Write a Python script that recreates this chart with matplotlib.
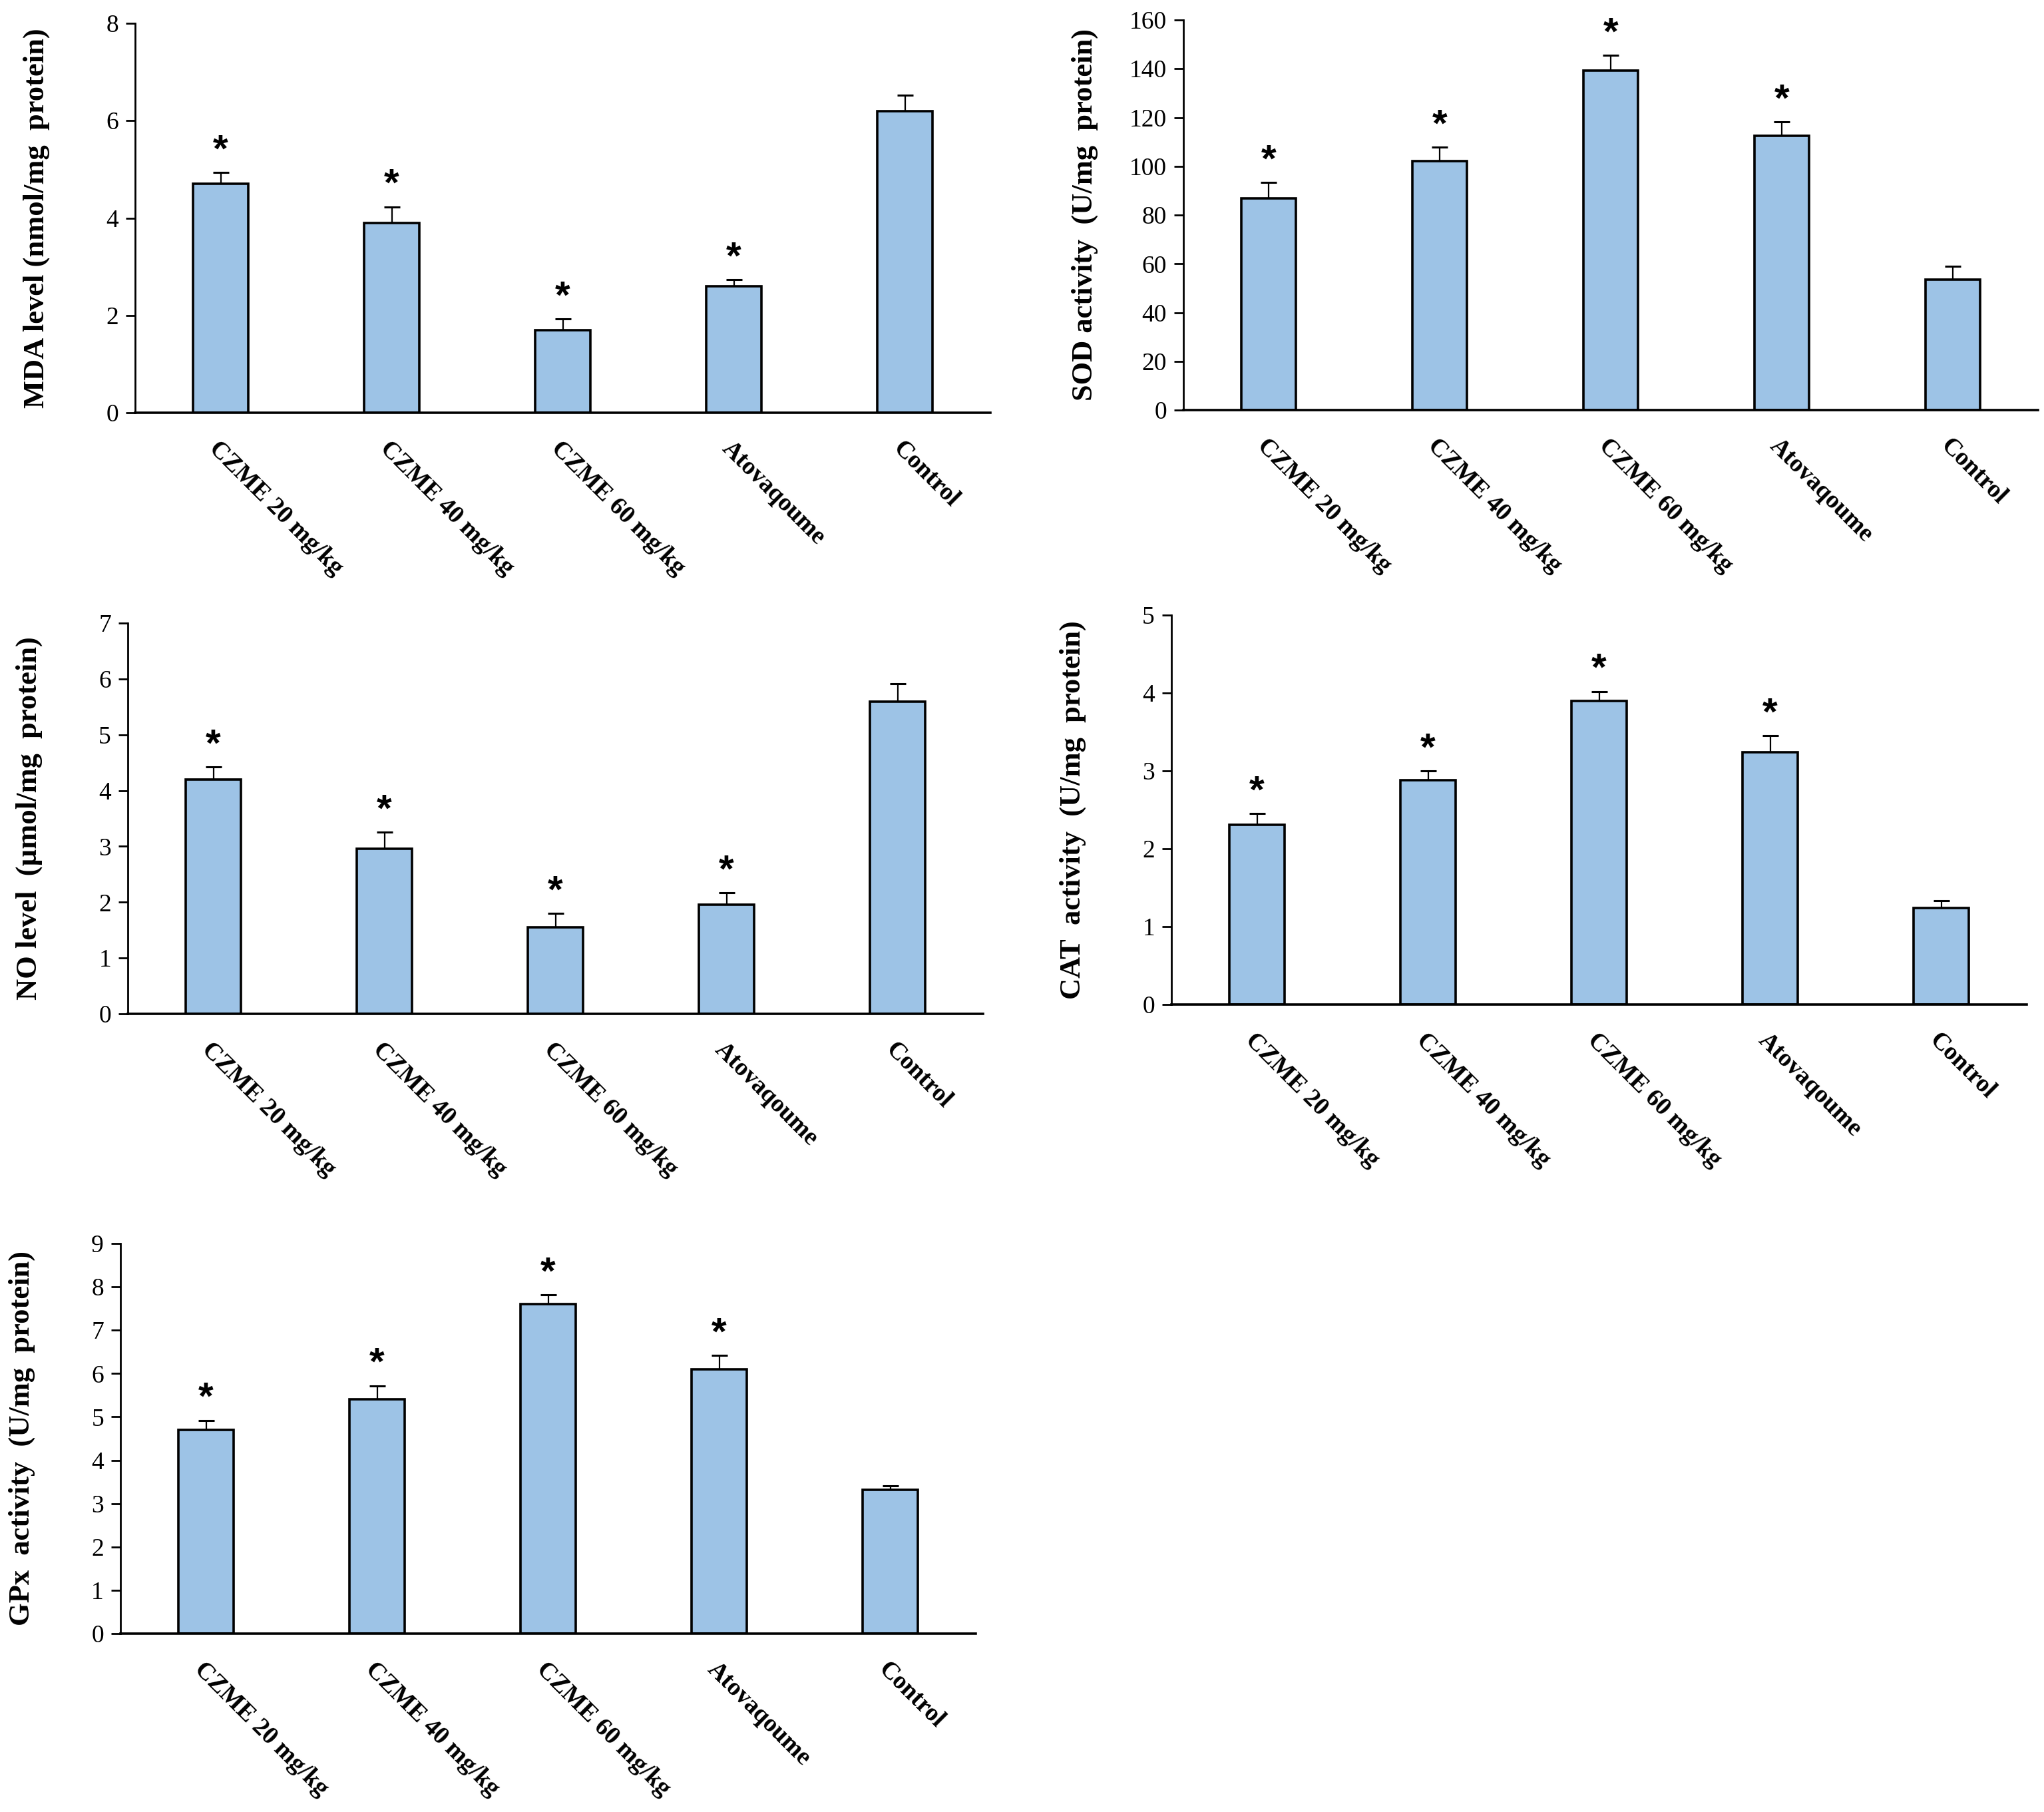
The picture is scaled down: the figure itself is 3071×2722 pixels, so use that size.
import matplotlib
matplotlib.use("Agg")
import matplotlib.pyplot as plt
import numpy as np

categories = ["CZME 20 mg/kg", "CZME 40 mg/kg", "CZME 60 mg/kg", "Atovaqoume", "Control"]

mda = [4.70, 3.90, 1.70, 2.60, 6.20]
mda_err = [0.23, 0.33, 0.23, 0.13, 0.32]

sod = [86.8, 102.0, 139.2, 112.5, 53.4]
sod_err = [6.5, 5.8, 6.3, 5.6, 5.5]

no = [4.20, 2.96, 1.55, 1.96, 5.59]
no_err = [0.22, 0.29, 0.25, 0.21, 0.32]

cat = [2.31, 2.88, 3.90, 3.24, 1.24]
cat_err = [0.14, 0.12, 0.12, 0.21, 0.09]

gpx = [4.70, 5.40, 7.61, 6.10, 3.31]
gpx_err = [0.22, 0.32, 0.21, 0.32, 0.10]

significant = [True, True, True, True, False]

panels = [
    dict(vals=mda, err=mda_err, ylim=(0, 8), ticks=[0, 2, 4, 6, 8],
         label="MDA level (nmol/mg  protein)", box=(203, 35, 1488, 620)),
    dict(vals=sod, err=sod_err, ylim=(0, 160), ticks=list(range(0, 161, 20)),
         label="SOD activity  (U/mg  protein)", box=(1778, 30, 3062, 616)),
    dict(vals=no, err=no_err, ylim=(0, 7), ticks=list(range(0, 8)),
         label="NO level  (\u00b5mol/mg  protein)", box=(192, 936, 1477, 1523)),
    dict(vals=cat, err=cat_err, ylim=(0, 5), ticks=list(range(0, 6)),
         label="CAT  activity  (U/mg  protein)", box=(1760, 924, 3045, 1509)),
    dict(vals=gpx, err=gpx_err, ylim=(0, 9), ticks=list(range(0, 10)),
         label="GPx  activity  (U/mg  protein)", box=(181, 1868, 1466, 2454)),
]

W, H = 3071, 2722
fig = plt.figure(figsize=(W / 100, H / 100), dpi=100)
fig.patch.set_facecolor("white")

serif = ["Liberation Serif", "DejaVu Serif"]
bar_color = "#9DC3E6"

for p in panels:
    x0, y0, x1, y1 = p["box"]
    ax = fig.add_axes([x0 / W, 1 - y1 / H, (x1 - x0) / W, (y1 - y0) / H])
    x = np.arange(len(categories))
    ax.bar(x, p["vals"], width=0.32, color=bar_color, edgecolor="black",
           linewidth=2.6, zorder=2)
    ax.errorbar(x, p["vals"], yerr=[np.zeros(len(x)), p["err"]], fmt="none",
                ecolor="black", elinewidth=1.6, capsize=8.5, capthick=2.2, zorder=1)
    for xi, v, e, s in zip(x, p["vals"], p["err"], significant):
        if s:
            ax.annotate("*", xy=(xi, v + e), xytext=(0, 12), textcoords="offset points",
                        ha="center", va="baseline", fontsize=42, fontweight="bold",
                        family=["Liberation Sans", "DejaVu Sans"])
    ax.set_xlim(-0.5, len(categories) - 0.5)
    ax.set_ylim(*p["ylim"])
    ax.set_yticks(p["ticks"])
    ax.set_yticklabels([str(t) for t in p["ticks"]], family=serif, fontsize=27)
    ax.set_xticks(x)
    ax.set_xticklabels(categories, rotation=-45, ha="left", va="top",
                       rotation_mode="anchor", family=serif, fontsize=27,
                       fontweight="bold")
    ax.tick_params(axis="x", length=0, pad=26)
    ax.tick_params(axis="y", length=10, width=2, direction="out", pad=8)
    for sp in ["top", "right"]:
        ax.spines[sp].set_visible(False)
    ax.spines["left"].set_linewidth(2)
    ax.spines["bottom"].set_linewidth(2.6)
    ax.text(-148 / (x1 - x0), 0.5, p["label"], transform=ax.transAxes,
            rotation=90, ha="center", va="center", family=serif,
            fontsize=32, fontweight="bold")

fig.savefig("out.png", dpi=100, facecolor="white")
